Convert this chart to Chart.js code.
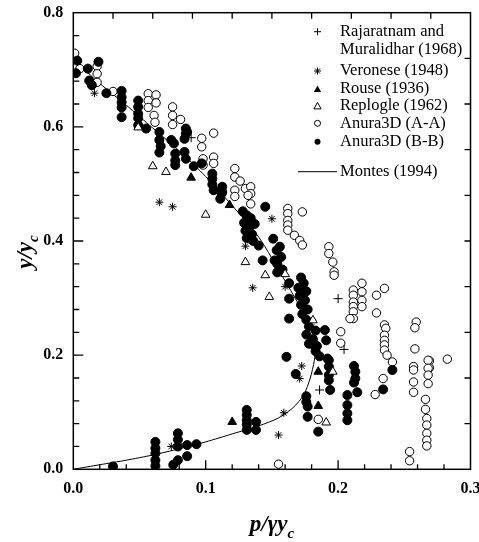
<!DOCTYPE html>
<html><head><meta charset="utf-8">
<script src="https://cdn.jsdelivr.net/npm/chart.js@4/dist/chart.umd.min.js"></script>
<style>html,body{margin:0;padding:0;background:#fff}#wrap{width:479px;height:542px;position:relative}</style>
</head><body><div id="wrap"><canvas id="c"></canvas></div>
<script>
// ---- data (p/γy_c , y/y_c) ----
const rajX = [0.089, 0.200, 0.2045, 0.186];
const rajY = [0.581, 0.299, 0.210, 0.139];

const verX = [0.016, 0.065, 0.075, 0.150, 0.130, 0.1355, 0.160, 0.180, 0.1725, 0.171, 0.159, 0.155, 0.074];
const verY = [0.659, 0.468, 0.460, 0.439, 0.391, 0.318, 0.320, 0.249, 0.181, 0.159, 0.099, 0.060, 0.040];

const rouseX = [0.089, 0.118, 0.185, 0.185, 0.120];
const rouseY = [0.511, 0.463, 0.171, 0.111, 0.083];

const repX = [0.049, 0.060, 0.070, 0.100, 0.130, 0.145, 0.160, 0.148, 0.181, 0.196, 0.191];
const repY = [0.599, 0.531, 0.521, 0.446, 0.363, 0.340, 0.342, 0.302, 0.261, 0.171, 0.082];

const aaX = [0.001, 0.005, 0.018, 0.018, 0.018, 0.030,
  0.0566, 0.0625, 0.0566, 0.0625, 0.0566, 0.061, 0.0617,
  0.075, 0.075, 0.075, 0.081, 0.097, 0.097, 0.106,
  0.098, 0.098, 0.106, 0.106,
  0.122, 0.122, 0.126, 0.122, 0.122, 0.130, 0.134, 0.134, 0.132, 0.134,
  0.162, 0.162, 0.162, 0.162, 0.162, 0.173, 0.167, 0.171, 0.173,
  0.193, 0.193, 0.196, 0.197, 0.197,
  0.2115, 0.2115, 0.2115, 0.2115, 0.2115, 0.2115, 0.218, 0.218, 0.218, 0.218, 0.209,
  0.202, 0.202, 0.229, 0.235, 0.229,
  0.235, 0.236, 0.235, 0.235, 0.235, 0.235, 0.237, 0.241, 0.234, 0.228,
  0.259, 0.258, 0.258, 0.257, 0.257, 0.257, 0.257,
  0.269, 0.269, 0.2825,
  0.268, 0.268, 0.268, 0.268, 0.266, 0.266, 0.267, 0.267, 0.267, 0.267, 0.267,
  0.254, 0.254, 0.155, 0.185];
const aaY = [0.729, 0.702, 0.706, 0.693, 0.678, 0.662,
  0.658, 0.656, 0.646, 0.642, 0.634, 0.620, 0.608,
  0.635, 0.620, 0.604, 0.613, 0.580, 0.565, 0.589,
  0.544, 0.533, 0.547, 0.536,
  0.527, 0.512, 0.505, 0.489, 0.478, 0.492, 0.495, 0.483, 0.480, 0.465,
  0.457, 0.448, 0.436, 0.428, 0.419, 0.451, 0.410, 0.401, 0.393,
  0.390, 0.378, 0.363, 0.346, 0.340,
  0.314, 0.305, 0.293, 0.285, 0.276, 0.264, 0.326, 0.311, 0.296, 0.285, 0.264,
  0.241, 0.221, 0.305, 0.317, 0.274,
  0.253, 0.247, 0.235, 0.226, 0.218, 0.209, 0.200, 0.188, 0.159, 0.131,
  0.258, 0.248, 0.211, 0.180, 0.174, 0.153, 0.135,
  0.190, 0.178, 0.193,
  0.191, 0.177, 0.165, 0.150, 0.1225, 0.105, 0.089, 0.0775, 0.063, 0.051, 0.041,
  0.031, 0.015, 0.009, 0.0875];

const bbX = [0.003, 0.002, 0.011, 0.012, 0.014, 0.019, 0.025,
  0.0365, 0.0365, 0.0365, 0.0365, 0.0365,
  0.049, 0.049, 0.049, 0.049, 0.049, 0.055,
  0.065, 0.065, 0.066, 0.065,
  0.074, 0.076, 0.077, 0.077, 0.077,
  0.085, 0.085, 0.084, 0.084, 0.085, 0.086,
  0.091, 0.097, 0.105, 0.105, 0.105, 0.106, 0.1125, 0.1125, 0.112, 0.111,
  0.128, 0.131, 0.134, 0.129, 0.133, 0.137, 0.130, 0.135, 0.131, 0.136, 0.140, 0.145, 0.143,
  0.151, 0.156, 0.1536, 0.157, 0.152, 0.154, 0.158, 0.154,
  0.163, 0.163, 0.163,
  0.172, 0.174, 0.170, 0.176, 0.171, 0.175, 0.172, 0.177, 0.173, 0.176,
  0.178, 0.183, 0.176, 0.181, 0.190, 0.178, 0.184, 0.191, 0.1825, 0.183, 0.186, 0.192, 0.161,
  0.193, 0.193, 0.193, 0.193, 0.194,
  0.212, 0.213, 0.213, 0.212, 0.2145,
  0.207, 0.207, 0.207, 0.207,
  0.241, 0.234,
  0.176, 0.176, 0.177, 0.177, 0.185, 0.168,
  0.131, 0.131, 0.131, 0.131, 0.131, 0.138, 0.138,
  0.030, 0.062, 0.062, 0.062, 0.062, 0.062, 0.0755, 0.079, 0.079, 0.079, 0.079, 0.086, 0.093, 0.086];
const bbY = [0.716, 0.694, 0.702, 0.681, 0.673, 0.714, 0.659,
  0.663, 0.652, 0.643, 0.634, 0.617,
  0.646, 0.635, 0.623, 0.615, 0.603, 0.597,
  0.591, 0.577, 0.566, 0.555,
  0.577, 0.571, 0.553, 0.541, 0.533,
  0.597, 0.588, 0.579, 0.556, 0.544, 0.591,
  0.531, 0.536, 0.518, 0.509, 0.499, 0.489, 0.495, 0.486, 0.483, 0.474,
  0.452, 0.445, 0.440, 0.432, 0.425, 0.430, 0.418, 0.412, 0.405, 0.400, 0.392, 0.460, 0.366,
  0.404, 0.390, 0.384, 0.372, 0.366, 0.360, 0.350, 0.345,
  0.326, 0.299, 0.264,
  0.336, 0.326, 0.318, 0.312, 0.304, 0.296, 0.288, 0.280, 0.272, 0.262,
  0.250, 0.243, 0.236, 0.228, 0.244, 0.220, 0.216, 0.226, 0.215, 0.207, 0.198, 0.194, 0.197,
  0.191, 0.180, 0.165, 0.156, 0.139,
  0.181, 0.171, 0.159, 0.152, 0.135,
  0.130, 0.1125, 0.098, 0.086,
  0.174, 0.140,
  0.128, 0.118, 0.110, 0.092, 0.066, 0.167,
  0.104, 0.095, 0.086, 0.078, 0.069, 0.083, 0.069,
  0.005, 0.048, 0.037, 0.028, 0.016, 0.006, 0.008, 0.016, 0.063, 0.052, 0.040, 0.0425, 0.044, 0.023];

const montesX = [0.000, 0.020, 0.040, 0.060, 0.080, 0.100, 0.120, 0.140, 0.160, 0.172, 0.180, 0.183, 0.182, 0.179, 0.174, 0.166, 0.155, 0.140, 0.120, 0.100, 0.080, 0.060, 0.040, 0.020, 0.000];
const montesY = [0.718, 0.676, 0.638, 0.598, 0.558, 0.513, 0.462, 0.407, 0.330, 0.282, 0.250, 0.215, 0.190, 0.160, 0.130, 0.108, 0.090, 0.076, 0.062, 0.048, 0.036, 0.025, 0.016, 0.008, 0.000];

const xTickValues = [0.0, 0.1, 0.2, 0.3];
const yTickValues = [0.0, 0.2, 0.4, 0.6, 0.8];

const legendLabels = [["Rajaratnam and", "Muralidhar (1968)"], ["Veronese (1948)"], ["Rouse (1936)"], ["Replogle (1962)"], ["Anura3D (A-A)"], ["Anura3D (B-B)"], ["Montes (1994)"]];

// ---- build ----
const pts = (xs, ys) => xs.map((x, i) => ({x: x, y: ys[i]}));
const SERIF = "'Liberation Serif','Times New Roman',serif";

const datasets = [
  {label: 'Rajaratnam', data: pts(rajX, rajY), pointStyle: 'cross', pointRadius: 4.5, borderColor: '#000', backgroundColor: '#000', borderWidth: 1, order: 0},
  {label: 'Veronese', data: pts(verX, verY), pointStyle: 'star', pointRadius: 4, borderColor: '#000', backgroundColor: '#000', borderWidth: 1, order: 0},
  {label: 'Rouse', data: pts(rouseX, rouseY), pointStyle: 'triangle', pointRadius: 5, borderColor: '#000', backgroundColor: '#000', borderWidth: 1, order: 0},
  {label: 'Replogle', data: pts(repX, repY), pointStyle: 'triangle', pointRadius: 5, borderColor: '#000', backgroundColor: '#fff', borderWidth: 1, order: 0},
  {label: 'A-A', data: pts(aaX, aaY), pointStyle: 'circle', pointRadius: 4.2, borderColor: '#000', backgroundColor: '#fff', borderWidth: 1, order: 2},
  {label: 'B-B', data: pts(bbX, bbY), pointStyle: 'circle', pointRadius: 4.5, borderColor: '#000', backgroundColor: '#000', borderWidth: 1, order: 1},
  {label: 'Montes', data: pts(montesX, montesY), showLine: true, pointRadius: 0, borderColor: '#000', borderWidth: 1, tension: 0.25, fill: false, order: 3}
];

const framePlugin = {
  id: 'frame',
  afterDraw(chart) {
    const ctx = chart.ctx, a = chart.chartArea, xs = chart.scales.x, ys = chart.scales.y;
    ctx.save();
    ctx.strokeStyle = '#000';
    ctx.lineWidth = 1.5;
    ctx.strokeRect(a.left, a.top, a.right - a.left, a.bottom - a.top);
    ctx.lineWidth = 1.3;
    ctx.beginPath();
    for (let i = 1; i < 15; i++) {
      const v = i * 0.02, px = xs.getPixelForValue(v);
      const len = (i % 5 === 0) ? 9 : 5;
      ctx.moveTo(px, a.bottom); ctx.lineTo(px, a.bottom - len);
    }
    for (let i = 1; i < 10; i++) {
      const px = xs.getPixelForValue(i * 0.03);
      ctx.moveTo(px, a.top); ctx.lineTo(px, a.top + 6);
    }
    for (let i = 1; i < 20; i++) {
      const py = ys.getPixelForValue(i * 0.04);
      const len = (i % 5 === 0) ? 10 : 6;
      ctx.moveTo(a.left, py); ctx.lineTo(a.left + len, py);
    }
    for (let i = 1; i < 10; i++) {
      const py = ys.getPixelForValue(i * 0.08);
      ctx.moveTo(a.right, py); ctx.lineTo(a.right - 6, py);
    }
    ctx.stroke();

    ctx.fillStyle = '#000';
    ctx.textBaseline = 'alphabetic';
    const big = "italic bold 23px " + SERIF, small = "italic bold 15px " + SERIF;
    ctx.font = big;
    const main = 'p/\u03B3y';
    const wMain = ctx.measureText(main).width;
    ctx.font = small;
    const wSub = ctx.measureText('c').width;
    const cx = (a.left + a.right) / 2;
    let x0 = cx - (wMain + wSub) / 2;
    ctx.font = big; ctx.textAlign = 'left';
    ctx.fillText(main, x0, 531);
    ctx.font = small;
    ctx.fillText('c', x0 + wMain, 538);
    ctx.save();
    ctx.translate(32, 252);
    ctx.rotate(-Math.PI / 2);
    ctx.font = big;
    const ym = 'y/y';
    const wy = ctx.measureText(ym).width;
    ctx.font = small;
    const wyc = ctx.measureText('c').width;
    let y0 = -(wy + wyc) / 2;
    ctx.font = big;
    ctx.fillText(ym, y0, 0);
    ctx.font = small;
    ctx.fillText('c', y0 + wy, 6);
    ctx.restore();

    const mx = 317.5, tx = 340;
    ctx.font = "16.5px " + SERIF;
    ctx.textAlign = 'left';
    ctx.textBaseline = 'middle';
    const rows = [31.7, 71, 89, 106, 123.3, 141.7, 171.7];
    ctx.lineWidth = 1;
    legendLabels.forEach((lab, i) => {
      const ry = rows[i];
      lab.forEach((t, j) => ctx.fillText(t, tx, ry + j * 18.3));
      ctx.beginPath();
      if (i === 0) {
        ctx.moveTo(mx - 3.5, ry); ctx.lineTo(mx + 3.5, ry);
        ctx.moveTo(mx, ry - 3.5); ctx.lineTo(mx, ry + 3.5); ctx.stroke();
      } else if (i === 1) {
        const r = 3.5;
        for (let k = 0; k < 4; k++) {
          const ang = k * Math.PI / 4;
          ctx.moveTo(mx - r * Math.cos(ang), ry - r * Math.sin(ang));
          ctx.lineTo(mx + r * Math.cos(ang), ry + r * Math.sin(ang));
        }
        ctx.stroke();
      } else if (i === 2 || i === 3) {
        const s = 3.6;
        ctx.moveTo(mx, ry - s); ctx.lineTo(mx + s, ry + s * 0.8); ctx.lineTo(mx - s, ry + s * 0.8); ctx.closePath();
        if (i === 2) { ctx.fill(); } else { ctx.stroke(); }
      } else if (i === 4 || i === 5) {
        ctx.arc(mx, ry, 3, 0, Math.PI * 2);
        if (i === 5) { ctx.fill(); } else { ctx.stroke(); }
      } else {
        ctx.moveTo(298, ry); ctx.lineTo(337, ry); ctx.stroke();
      }
    });
    ctx.restore();
  }
};

const zeroPad = (s) => { s.paddingLeft = 0; s.paddingRight = 0; s.paddingTop = 0; s.paddingBottom = 0; };

new Chart(document.getElementById('c'), {
  type: 'scatter',
  data: {datasets: datasets},
  options: {
    responsive: true,
    maintainAspectRatio: false,
    animation: false,
    layout: {autoPadding: false, padding: {top: 12.7, right: 8.5, left: 0, bottom: 0}},
    plugins: {legend: {display: false}, tooltip: {enabled: false}},
    scales: {
      x: {
        type: 'linear', min: 0, max: 0.3,
        afterBuildTicks: (s) => { s.ticks = xTickValues.map(v => ({value: v})); },
        afterFit: (s) => { s.height = 72.7; zeroPad(s); },
        grid: {display: false, drawTicks: false},
        border: {display: false},
        ticks: {padding: 10, color: '#000', font: {family: SERIF, size: 16, weight: 'bold'}, callback: (v) => Number(v).toFixed(1), maxRotation: 0}
      },
      y: {
        type: 'linear', min: 0, max: 0.8,
        afterBuildTicks: (s) => { s.ticks = yTickValues.map(v => ({value: v})); },
        afterFit: (s) => { s.width = 73.3; zeroPad(s); },
        grid: {display: false, drawTicks: false},
        border: {display: false},
        ticks: {padding: 10, color: '#000', font: {family: SERIF, size: 16, weight: 'bold'}, callback: (v) => Number(v).toFixed(1)}
      }
    }
  },
  plugins: [framePlugin]
});
</script>
</body></html>
